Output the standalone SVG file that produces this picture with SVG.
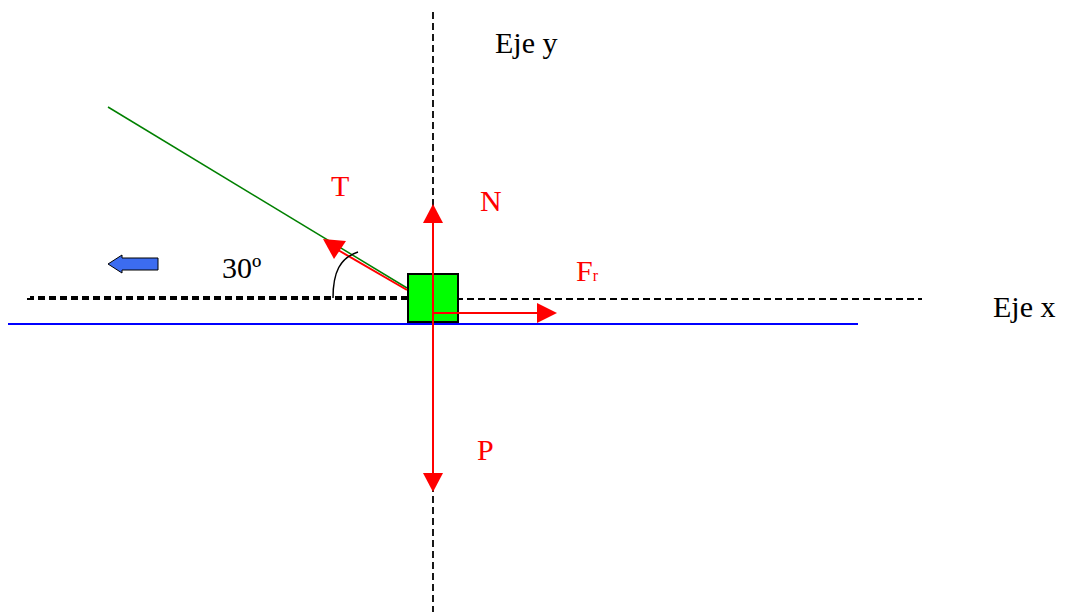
<svg xmlns="http://www.w3.org/2000/svg" width="1066" height="612" viewBox="0 0 1066 612">
<style>
.dash{stroke:#000;stroke-width:1.8;stroke-dasharray:7 4;fill:none}
.force{stroke:#f00;stroke-width:2;fill:none}
.lbl{font-family:"Liberation Serif",serif;font-size:30px}
.red{fill:#f00}
</style>
<rect width="1066" height="612" fill="#fff"/>
<g id="axes">
<line class="dash" x1="433" y1="12" x2="433" y2="612"/>
<line class="dash" x1="27" y1="299" x2="922" y2="299"/>
<line class="dash" x1="30" y1="297" x2="407" y2="297" stroke-dashoffset="3"/>
</g>
<g id="ground"><line x1="8" y1="324" x2="858" y2="324" stroke="#00f" stroke-width="2"/></g>
<g id="rope"><line x1="108" y1="107" x2="407" y2="288" stroke="#008000" stroke-width="1.5"/></g>
<g id="block"><rect x="408" y="274" width="50" height="48" fill="#0f0" stroke="#000" stroke-width="2"/></g>
<g id="connectors">
<line class="force" x1="407" y1="290" x2="338" y2="250"/>
<polygon class="red" points="323,239 346,241 334,259"/>
<line class="force" x1="433" y1="299" x2="433" y2="220"/>
<polygon class="red" points="433,204 443,223 423,223"/>
<line class="force" x1="433" y1="299" x2="433" y2="475"/>
<polygon class="red" points="433,492 443,473 423,473"/>
<polyline class="force" points="433,316 433,313 540,313"/>
<polygon class="red" points="557,313 537,303 537,323"/>
<path d="M333,298 C333,272 340,258 358,252" stroke="#000" stroke-width="1.5" fill="none"/>
</g>
<g id="motion"><polygon points="108,264 122,255 122,258 158,258 158,270 122,270 122,273" fill="#3c6cf0" stroke="#000" stroke-width="1"/></g>
<g id="labels">
<text class="lbl" x="495" y="53">Eje y</text>
<text class="lbl" x="993" y="317">Eje x</text>
<text class="lbl" x="222" y="278">30º</text>
<text class="lbl red" x="331" y="196">T</text>
<text class="lbl red" x="480" y="211">N</text>
<text class="lbl red" x="477" y="460">P</text>
<text class="lbl red" x="576" y="281">F<tspan font-size="16">r</tspan></text>
</g>
</svg>
